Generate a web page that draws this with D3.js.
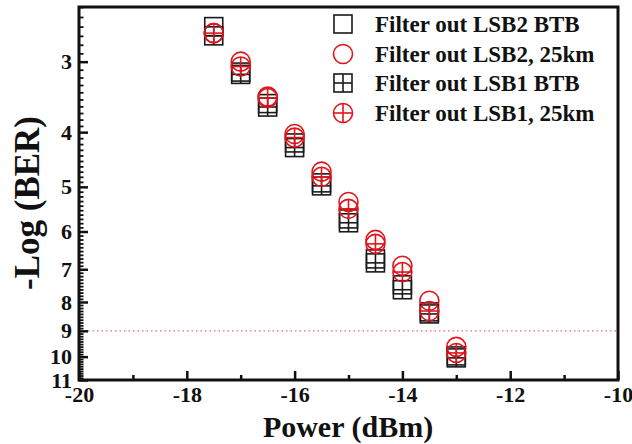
<!DOCTYPE html>
<html>
<head>
<meta charset="utf-8">
<script src="https://cdn.jsdelivr.net/npm/d3@7/dist/d3.min.js"></script>
<style>
  html, body { margin: 0; padding: 0; background: #fff; }
  svg text { font-family: "Liberation Serif", "Times New Roman", serif; font-weight: bold; fill: #111; }
</style>
</head>
<body>
<svg id="chart" width="632" height="444"></svg>
<script>
// Received optical power (dBm)
const power = [-17.5, -17, -16.5, -16, -15.5, -15, -14.5, -14, -13.5, -13];
// -log10(BER) for each configuration
const lsb2Btb  = [2.60, 3.13, 3.56, 4.18, 4.92, 5.70, 6.71, 7.46, 8.33, 9.97];
const lsb2Km25 = [2.67, 3.00, 3.46, 4.03, 4.70, 5.32, 6.21, 6.90, 7.96, 9.61];
const lsb1Btb  = [2.70, 3.16, 3.61, 4.26, 4.98, 5.79, 6.82, 7.61, 8.40, 10.05];
const lsb1Km25 = [2.67, 3.06, 3.48, 4.09, 4.80, 5.47, 6.31, 7.08, 8.30, 9.85];

const seriesNames = ["Filter out LSB2 BTB", "Filter out LSB2, 25km", "Filter out LSB1 BTB", "Filter out LSB1, 25km"];
const xTicks = [-20, -18, -16, -14, -12, -10];
const xMinorTicks = [-19, -17, -15, -13, -11];
const yTicks = [3, 4, 5, 6, 7, 8, 9, 10, 11];
const fecLimit = 9;

const series = [
  { name: seriesNames[0], values: lsb2Btb,  shape: "square", cross: false, color: "#1a1a1a" },
  { name: seriesNames[1], values: lsb2Km25, shape: "circle", cross: false, color: "#e3141c" },
  { name: seriesNames[2], values: lsb1Btb,  shape: "square", cross: true,  color: "#1a1a1a" },
  { name: seriesNames[3], values: lsb1Km25, shape: "circle", cross: true,  color: "#e3141c" }
];

const svg = d3.select("#chart");
const plotLeft = 79, plotRight = 618, plotTop = 7, plotBottom = 380;

const x = d3.scaleLinear().domain([-20, -10]).range([plotLeft, plotRight]);
const y = d3.scaleLog().domain([2.4, 11]).range([plotTop, plotBottom]);

// minor y ticks every 0.1
const yMinor = d3.range(24, 111).map(d => d / 10).filter(v => !yTicks.includes(v));

// FEC threshold line
svg.append("line")
  .attr("x1", plotLeft).attr("x2", plotRight)
  .attr("y1", y(fecLimit)).attr("y2", y(fecLimit))
  .attr("stroke", "#f06a6a").attr("stroke-width", 1.3)
  .attr("stroke-dasharray", "1.5,3");

// markers
const half = 9, rad = 9.5;
function drawMarker(g, s, cx, cy) {
  const m = g.append("g").attr("transform", `translate(${cx},${cy})`)
    .attr("fill", "none").attr("stroke", s.color).attr("stroke-width", 1.6);
  if (s.shape === "square") {
    m.append("rect").attr("x", -half).attr("y", -half).attr("width", 2 * half).attr("height", 2 * half);
    if (s.cross) {
      m.append("line").attr("x1", -half).attr("x2", half).attr("y1", 0).attr("y2", 0);
      m.append("line").attr("x1", 0).attr("x2", 0).attr("y1", -half).attr("y2", half);
    }
  } else {
    m.append("circle").attr("r", rad);
    if (s.cross) {
      m.append("line").attr("x1", -rad).attr("x2", rad).attr("y1", 0).attr("y2", 0);
      m.append("line").attr("x1", 0).attr("x2", 0).attr("y1", -rad).attr("y2", rad);
    }
  }
}

const plot = svg.append("g");
series.forEach(s => {
  s.values.forEach((v, i) => drawMarker(plot, s, x(power[i]), y(v)));
});

// frame
svg.append("rect")
  .attr("x", plotLeft).attr("y", plotTop).attr("width", plotRight - plotLeft).attr("height", plotBottom - plotTop)
  .attr("fill", "none").attr("stroke", "#111").attr("stroke-width", 3);

// y axis: major ticks with labels, minor ticks inward
const yAxis = d3.axisLeft(y).tickValues(yTicks).tickFormat(d3.format("d"))
  .tickSizeInner(-9).tickSizeOuter(0).tickPadding(7);
const gy = svg.append("g").attr("transform", `translate(${plotLeft},0)`).call(yAxis);
gy.select(".domain").remove();
gy.selectAll(".tick line").attr("stroke", "#111").attr("stroke-width", 2.5);
gy.selectAll(".tick text").attr("font-size", 22).attr("font-family", null).style("fill", "#111");

const gyMinor = svg.append("g").attr("transform", `translate(${plotLeft},0)`)
  .call(d3.axisLeft(y).tickValues(yMinor).tickFormat("").tickSizeInner(-4.5).tickSizeOuter(0));
gyMinor.select(".domain").remove();
gyMinor.selectAll(".tick line").attr("stroke", "#111").attr("stroke-width", 1.8);

// x axis
const xAxis = d3.axisBottom(x).tickValues(xTicks).tickFormat(d3.format("d"))
  .tickSizeInner(-9).tickSizeOuter(0).tickPadding(6);
const gx = svg.append("g").attr("transform", `translate(0,${plotBottom})`).call(xAxis);
gx.select(".domain").remove();
gx.selectAll(".tick line").attr("stroke", "#111").attr("stroke-width", 2.5);
gx.selectAll(".tick text").attr("font-size", 22).attr("font-family", null).style("fill", "#111")
  .text(d => (d < 0 ? "-" : "") + Math.abs(d));

const gxMinor = svg.append("g").attr("transform", `translate(0,${plotBottom})`)
  .call(d3.axisBottom(x).tickValues(xMinorTicks).tickFormat("").tickSizeInner(-5).tickSizeOuter(0));
gxMinor.select(".domain").remove();
gxMinor.selectAll(".tick line").attr("stroke", "#111").attr("stroke-width", 2.5);

// axis titles
svg.append("text").attr("x", 348).attr("y", 437).attr("text-anchor", "middle")
  .attr("font-size", 30).text("Power (dBm)");
svg.append("text").attr("transform", "translate(39,203) rotate(-90)").attr("text-anchor", "middle")
  .attr("font-size", 35).text("-Log (BER)");

// legend
const legendY = [24, 54, 83, 113];
const lg = svg.append("g");
series.forEach((s, i) => {
  drawMarker(lg, s, 343, legendY[i]);
  lg.append("text").attr("x", 375).attr("y", legendY[i] + 8)
    .attr("font-size", 23).text(s.name);
});
</script>
</body>
</html>
